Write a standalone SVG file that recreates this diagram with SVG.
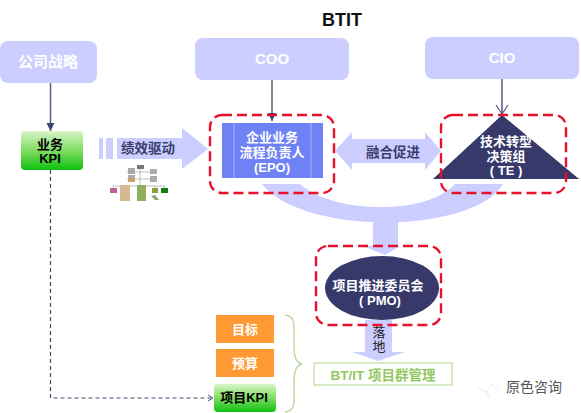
<svg xmlns="http://www.w3.org/2000/svg" width="581" height="413" viewBox="0 0 581 413">
<style>
text{font-family:"Liberation Sans","Noto Sans CJK SC",sans-serif;text-anchor:middle;font-weight:bold}
.lead{fill:#ccceff}
.lt{fill:#fff;font-size:15px}
.w{fill:#fff;font-size:13px}
.d{fill:#3a3f6e;font-size:13.500px}
.red{fill:none;stroke:#e8112d;stroke-width:2.400;stroke-dasharray:10 5}
.ln{fill:none;stroke:#55597e;stroke-width:1.500}
.or{fill:#ff9933}
.m{stroke:#999;stroke-width:.6;fill:none}
</style>
<defs>
<linearGradient id="g" x1="0" y1="0" x2="0" y2="1"><stop offset="0" stop-color="#d8f5c8"/><stop offset=".5" stop-color="#7fdc62"/><stop offset="1" stop-color="#10c010"/></linearGradient>
<marker id="ah" markerUnits="userSpaceOnUse" markerWidth="10" markerHeight="10" refX="8" refY="4" orient="auto"><path d="M0 0L8 4L0 8z" fill="#3f4470"/></marker>
<marker id="oh" markerUnits="userSpaceOnUse" markerWidth="12" markerHeight="16" refX="10" refY="8" orient="auto"><path d="M1 2L10 8L1 14" fill="none" stroke="#55597e" stroke-width="1.200"/></marker>
<marker id="dh" markerUnits="userSpaceOnUse" markerWidth="8" markerHeight="8" refX="6" refY="4" orient="auto"><path d="M1 1L6 4L1 7" fill="none" stroke="#55597e" stroke-width="1"/></marker>
</defs>
<rect width="581" height="413" fill="#fff"/>
<text x="342" y="26" style="font-size:18px;fill:#111">BTIT</text>

<g id="flows">
<path class="lead" d="M262 184H300C318 200 350 207 381 207C412 207 440 200 455 184H503C490 208 440 221 398 222V246H400L385 255L363 246H373V222C330 221 280 208 262 184Z"/>
<path class="lead" d="M365 320H392V352H405L378 361L352 352H365Z"/>
<rect class="lead" x="99" y="138" width="4" height="21"/>
<rect class="lead" x="106" y="138" width="7" height="21"/>
<path class="lead" d="M117 138H182V128L208 149L182 169V159H117Z"/>
<path class="lead" d="M335 151L352 132V139H425V132L441 151L425 170V163H352V170Z"/>
</g>

<g id="connectors">
<line class="ln" x1="50.500" y1="82" x2="50.500" y2="131" marker-end="url(#ah)"/>
<line class="ln" x1="272" y1="80" x2="272" y2="121" marker-end="url(#ah)"/>
<line class="ln" x1="502" y1="79" x2="502" y2="114" marker-end="url(#oh)"/>
<path d="M50.500 170V398H213" fill="none" stroke="#45496e" stroke-width="1.200" stroke-dasharray="4 3" marker-end="url(#dh)"/>
<path d="M285 315C296 316 294 326 294 340C294 354 294 362 302 364C294 366 294 376 294 388C294 402 296 411 285 412" fill="none" stroke="#b5d79a" stroke-width="1.300"/>
</g>

<g id="n-strategy"><rect class="lead" x="0" y="41" width="97" height="42" rx="8"/><text class="lt" x="48" y="67">公司战略</text></g>
<g id="n-coo"><rect class="lead" x="195" y="38" width="154" height="42" rx="8"/><text class="lt" x="272" y="64">COO</text></g>
<g id="n-cio"><rect class="lead" x="425" y="37" width="154" height="42" rx="8"/><text class="lt" x="502" y="63">CIO</text></g>

<g id="n-kpi"><rect x="21" y="131" width="62" height="39" rx="4" fill="url(#g)"/><text x="50" y="149" style="font-size:13px;fill:#000">业务</text><text x="50" y="163" style="font-size:13px;fill:#000">KPI</text></g>

<g id="n-chart">
<path class="m" d="M140 169V186M140 172H153M140 179H153M127 172H140M127 179H140M113 186H165M113 186V189M125 186V188M142 186V188M155 186V189M164 186V189"/>
<rect x="137" y="165" width="7" height="4" fill="#777"/>
<rect x="128" y="168" width="7" height="6" fill="#aaa"/><rect x="128" y="175" width="7" height="3" fill="#aaa"/><rect x="128" y="178" width="7" height="4" fill="#c9a070"/>
<rect x="150" y="169" width="7" height="5" fill="#aaa"/><rect x="150" y="176" width="7" height="6" fill="#aaa"/>
<rect x="110" y="188" width="7" height="5" fill="#c060a0"/>
<rect x="120" y="185" width="10" height="16" fill="#d8b890"/>
<rect x="137" y="185" width="9" height="16" fill="#8fae60"/>
<rect x="152" y="188" width="6" height="5" fill="#90a040"/><rect x="161" y="188" width="7" height="5" fill="#108010"/>
<path d="M151 196L155 195L159 200L155 200Z" fill="#90a070"/>
</g>

<g id="n-drive"><text x="148" y="153" style="font-size:13.500px;fill:#3a3f6e">绩效驱动</text></g>
<g id="n-merge"><text class="d" x="393" y="157">融合促进</text></g>

<g id="n-epo">
<rect x="222" y="123" width="101" height="55" fill="#6f82f5"/>
<path d="M234 123V178M311 123V178" stroke="#b8c2fa" stroke-width=".8"/>
<text class="w" x="272" y="142">企业业务</text><text class="w" x="272" y="157">流程负责人</text><text class="w" x="272" y="172">(EPO)</text>
<rect class="red" x="210" y="115" width="124" height="78" rx="12"/>
</g>

<g id="n-te">
<path d="M502 115L579 179H433Z" fill="#36396a"/>
<text class="w" x="506" y="146">技术转型</text><text class="w" x="506" y="161">决策组</text><text class="w" x="506" y="175">( TE )</text>
<rect class="red" x="441" y="115" width="125" height="78" rx="12"/>
</g>

<g id="n-pmo">
<ellipse cx="382" cy="288" rx="57" ry="32" fill="#36396a"/>
<text class="w" x="378" y="290">项目推进委员会</text><text class="w" x="380" y="305">( PMO)</text>
<rect class="red" x="316" y="246" width="125" height="79" rx="12"/>
</g>

<g id="n-land"><text x="379" y="337" style="font-size:13px;fill:#222;font-weight:normal">落</text><text x="379" y="351" style="font-size:13px;fill:#222;font-weight:normal">地</text></g>

<g id="n-target"><rect class="or" x="216" y="315" width="58" height="28"/><text class="lt" style="font-size:13px" x="245" y="334">目标</text></g>
<g id="n-budget"><rect class="or" x="216" y="349" width="58" height="28"/><text class="lt" style="font-size:13px" x="245" y="368">预算</text></g>
<g id="n-pkpi"><rect x="214" y="384" width="62" height="28" rx="4" fill="url(#g)"/><text x="244" y="402" style="font-size:13px;fill:#000">项目KPI</text></g>

<g id="n-btit"><rect x="314" y="363" width="138" height="22" fill="#fff" stroke="#c3e0a8" stroke-width="1.300"/><text x="383" y="380" style="font-size:13.500px;fill:#93c85f">BT/IT 项目群管理</text></g>

<g id="watermark">
<path d="M478 388L486 392L492 384M486 392L490 398M492 384L499 391" fill="none" stroke="#ccc" stroke-width=".8" stroke-dasharray="1.500 1.500"/>
<text x="534" y="392" style="font-size:14px;fill:#555;font-weight:normal">原色咨询</text>
</g>
</svg>
